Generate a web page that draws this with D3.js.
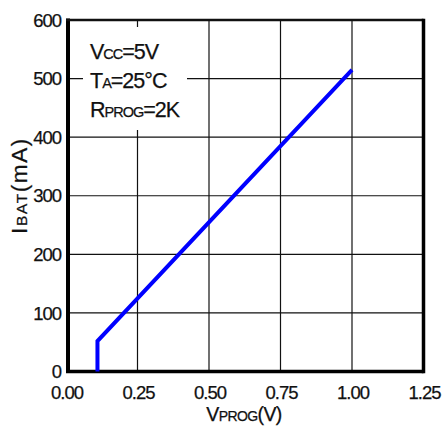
<!DOCTYPE html>
<html>
<head>
<meta charset="utf-8">
<script src="https://cdn.jsdelivr.net/npm/d3@7"></script>
<style>
  html, body { margin: 0; padding: 0; background: #fff; }
  svg { display: block; }
  text { font-family: "Liberation Sans", Arial, sans-serif; fill: #111; stroke: #111; stroke-width: 0.25; }
</style>
</head>
<body>
<svg id="chart" width="442" height="426"></svg>
<script>
// Charge current vs. PROG pin voltage
const vprog = [0.11, 0.11, 1.0];
const ibat = [0, 52, 515];

const xTickValues = [0, 0.25, 0.5, 0.75, 1.0, 1.25];
const yTickValues = [0, 100, 200, 300, 400, 500, 600];

const svg = d3.select("#chart");

const x = d3.scaleLinear().domain([0, 1.25]).range([66, 423.5]);
const y = d3.scaleLinear().domain([0, 600]).range([371.5, 20]);

// grid
const grid = svg.append("g");
grid.selectAll("line.v").data(xTickValues.slice(1, -1)).join("line")
  .attr("x1", d => x(d)).attr("x2", d => x(d))
  .attr("y1", y(600)).attr("y2", y(0))
  .attr("stroke", "#111").attr("stroke-width", 1.2);
grid.selectAll("line.h").data(yTickValues.slice(1, -1)).join("line")
  .attr("x1", x(0)).attr("x2", x(1.25))
  .attr("y1", d => y(d)).attr("y2", d => y(d))
  .attr("stroke", "#111").attr("stroke-width", 1.2);

// white panel behind the test conditions
svg.append("rect")
  .attr("x", 83).attr("y", 27).attr("width", 104).attr("height", 103)
  .attr("fill", "#fff");

// frame
svg.append("line").attr("x1", x(0) + 2).attr("x2", x(0) + 2)
  .attr("y1", y(600) - 1.5).attr("y2", y(0) + 1.5)
  .attr("stroke", "#000").attr("stroke-width", 4);
svg.append("line").attr("x1", x(0)).attr("x2", x(1.25))
  .attr("y1", y(0)).attr("y2", y(0))
  .attr("stroke", "#000").attr("stroke-width", 3.5);
svg.append("line").attr("x1", x(0)).attr("x2", x(1.25))
  .attr("y1", y(600)).attr("y2", y(600))
  .attr("stroke", "#111").attr("stroke-width", 2.5);
svg.append("line").attr("x1", x(1.25)).attr("x2", x(1.25))
  .attr("y1", y(600) - 1.2).attr("y2", y(0) + 1.7)
  .attr("stroke", "#000").attr("stroke-width", 3.5);

// curve
const pts = vprog.map((v, i) => [v, ibat[i]]);
svg.append("path")
  .datum(pts)
  .attr("d", d3.line().x(d => x(d[0])).y(d => y(d[1])))
  .attr("fill", "none")
  .attr("stroke", "#0000ff")
  .attr("stroke-width", 4)
  .attr("stroke-linejoin", "miter");

// tick labels
svg.append("g").selectAll("text").data(yTickValues).join("text")
  .attr("x", 61).attr("y", d => y(d)).attr("dy", "0.36em")
  .attr("text-anchor", "end")
  .attr("font-size", 18.5).attr("letter-spacing", -1)
  .text(d => d);
svg.append("g").selectAll("text").data(xTickValues).join("text")
  .attr("x", d => x(d) + 1).attr("y", 399)
  .attr("text-anchor", "middle")
  .attr("font-size", 18.5).attr("letter-spacing", -1)
  .text(d => d3.format(".2f")(d));

// axis titles
const xt = svg.append("text")
  .attr("x", 244).attr("y", 420.5)
  .attr("text-anchor", "middle")
  .attr("font-size", 19.5).attr("letter-spacing", -0.6);
xt.append("tspan").text("V");
xt.append("tspan").attr("font-size", 14).text("PROG");
xt.append("tspan").text("(V)");

const yt = svg.append("text")
  .attr("transform", "translate(27,185.5) rotate(-90)")
  .attr("text-anchor", "middle")
  .attr("font-size", 22.5).attr("letter-spacing", 1.6);
yt.append("tspan").text("I");
yt.append("tspan").attr("font-size", 15.5).text("BAT");
yt.append("tspan").text("(mA)");

// test conditions
const cond = svg.append("g").attr("font-size", 21.5).attr("letter-spacing", -1);
const l1 = cond.append("text").attr("x", 90).attr("y", 58.5);
l1.append("tspan").text("V");
l1.append("tspan").attr("font-size", 14.5).text("CC");
l1.append("tspan").text("=5V");
const l2 = cond.append("text").attr("x", 90).attr("y", 87.5);
l2.append("tspan").text("T");
l2.append("tspan").attr("font-size", 14.5).text("A");
l2.append("tspan").text("=25°C");
const l3 = cond.append("text").attr("x", 90).attr("y", 116.5);
l3.append("tspan").text("R");
l3.append("tspan").attr("font-size", 14.5).text("PROG");
l3.append("tspan").text("=2K");
</script>
</body>
</html>
